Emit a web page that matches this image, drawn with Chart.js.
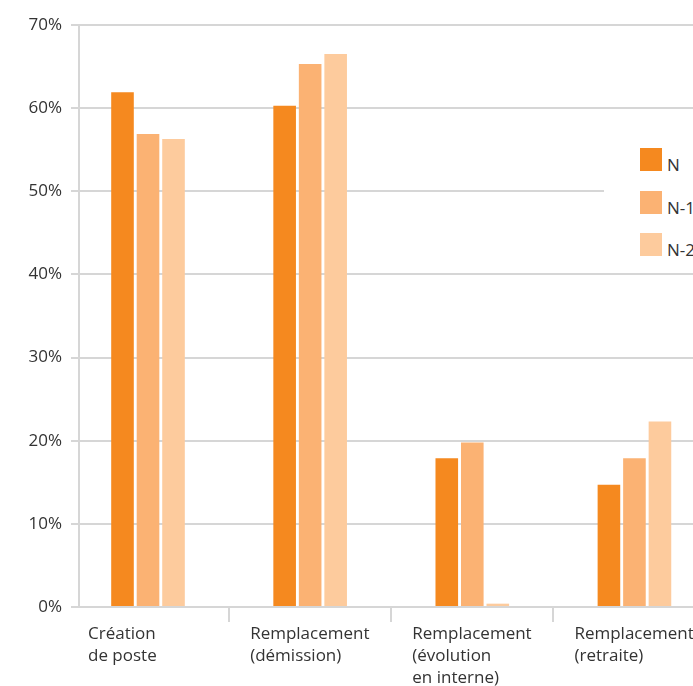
<!DOCTYPE html>
<html>
<head>
<meta charset="utf-8">
<script src="https://cdn.jsdelivr.net/npm/chart.js@4/dist/chart.umd.min.js"></script>
<style>
  html, body { margin: 0; padding: 0; background: #fff; overflow: hidden; }
  #wrap { position: relative; width: 693px; height: 686px; overflow: hidden; }
  #c { position: absolute; left: 0; top: 0; }
  #legend { position: absolute; left: 604px; top: 118px; width: 100px; height: 150px; background: #fff;
            font-family: "Open Sans", sans-serif; font-size: 17px; color: #333; }
  .item { display: flex; align-items: flex-end; height: 23px; margin-left: 36px; }
  .item:first-child { margin-top: 30px; }
  .item + .item { margin-top: 19.5px; }
  .sw { width: 22px; height: 23px; flex: none; }
  .lab { margin-left: 5px; line-height: 17px; position: relative; top: 2px; white-space: nowrap; }
</style>
</head>
<body>
<div id="wrap">
  <canvas id="c" width="760" height="686"></canvas>
  <div id="legend"></div>
</div>
<script>
const categories = [
  ["Création", "de poste"],
  ["Remplacement", "(démission)"],
  ["Remplacement", "(évolution", "en interne)"],
  ["Remplacement", "(retraite)"]
];
const seriesNames = ["N", "N-1", "N-2"];
const valuesN  = [61.9, 60.3, 17.9, 14.7];
const valuesN1 = [56.9, 65.3, 19.8, 17.9];
const valuesN2 = [56.3, 66.5, 0.4, 22.3];
const yTicks = [0, 10, 20, 30, 40, 50, 60, 70];
const colors = ["#F5891F", "#FBB273", "#FDCB9D"];

const gridColor = "#d6d6d6";
const textColor = "#333333";
const font = { family: "'Open Sans', sans-serif", size: 17, lineHeight: 1.3 };

const seriesValues = [valuesN, valuesN1, valuesN2];

new Chart(document.getElementById("c"), {
  type: "bar",
  data: {
    labels: categories,
    datasets: seriesNames.map((name, i) => ({
      label: name,
      data: seriesValues[i],
      backgroundColor: colors[i],
      borderWidth: 0,
      barPercentage: 0.886,
      categoryPercentage: 0.472
    }))
  },
  options: {
    responsive: false,
    animation: false,
    devicePixelRatio: 1,
    layout: { padding: { top: 25, left: 0, right: 0, bottom: 0 } },
    plugins: { legend: { display: false }, tooltip: { enabled: false } },
    scales: {
      x: {
        type: "category",
        offset: true,
        afterBuildTicks: (scale) => { scale._startValue = -0.4256; scale._valueRange = 4.2; },
        afterFit: (scale) => { scale.height = 79; },
        grid: {
          drawOnChartArea: false,
          drawTicks: true,
          tickLength: 15,
          offset: true,
          color: gridColor,
          lineWidth: 2
        },
        border: { display: true, color: gridColor, width: 2 },
        ticks: {
          autoSkip: false,
          maxRotation: 0,
          minRotation: 0,
          align: "start",
          labelOffset: -60,
          padding: 1,
          color: textColor,
          font: font
        }
      },
      y: {
        type: "linear",
        min: 0,
        max: 70,
        afterFit: (scale) => { scale.width = 79; },
        afterBuildTicks: (scale) => { scale.ticks = yTicks.map(v => ({ value: v })); },
        grid: {
          color: gridColor,
          lineWidth: 2,
          drawTicks: true,
          tickLength: 8
        },
        border: { display: true, color: gridColor, width: 2 },
        ticks: {
          stepSize: 10,
          padding: 9,
          color: textColor,
          font: { family: "'Open Sans', sans-serif", size: 17 },
          callback: (v) => v + "%"
        }
      }
    }
  }
});

const legendEl = document.getElementById("legend");
seriesNames.forEach((name, i) => {
  const item = document.createElement("div");
  item.className = "item";
  const sw = document.createElement("div");
  sw.className = "sw";
  sw.style.background = colors[i];
  const lab = document.createElement("span");
  lab.className = "lab";
  lab.textContent = name;
  item.appendChild(sw);
  item.appendChild(lab);
  legendEl.appendChild(item);
});
</script>
</body>
</html>
